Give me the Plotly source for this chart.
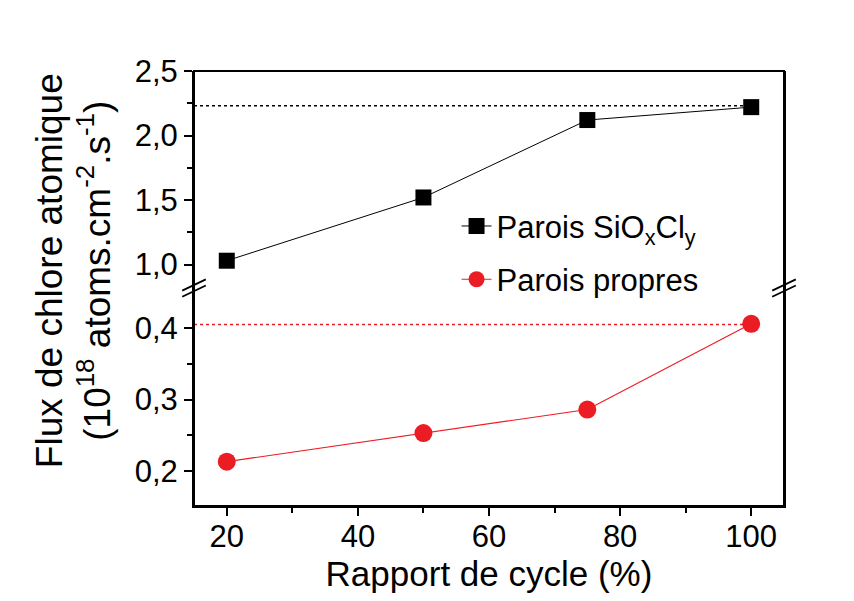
import plotly.graph_objects as go

cycle = [20, 50, 75, 100]
flux_siocl = [1.03, 1.52, 2.12, 2.22]
flux_propres = [0.213, 0.253, 0.286, 0.406]
ref_siocl = 2.23
ref_propres = 0.405

FONT = "Liberation Sans, Arial, sans-serif"
RED = "#ec1c24"

fig = go.Figure()
fig.add_trace(go.Scatter(
    x=cycle, y=flux_siocl, mode="lines+markers", yaxis="y2",
    name="Parois SiO<sub>x</sub>Cl<sub>y</sub>", legendgroup="a",
    line=dict(color="black", width=1),
    marker=dict(symbol="square", size=16, color="black"),
))
fig.add_trace(go.Scatter(
    x=cycle, y=flux_propres, mode="lines+markers", yaxis="y",
    name="Parois propres", legendgroup="b",
    line=dict(color=RED, width=1.2),
    marker=dict(symbol="circle", size=18, color=RED),
))

# dotted reference lines
fig.add_shape(type="line", xref="x", yref="y2", x0=15, x1=100, y0=ref_siocl, y1=ref_siocl,
              line=dict(color="black", width=1.5, dash="dot"))
fig.add_shape(type="line", xref="x", yref="y", x0=15, x1=100, y0=ref_propres, y1=ref_propres,
              line=dict(color=RED, width=1.5, dash="dot"))

# frame
fig.add_shape(type="rect", xref="paper", yref="paper", x0=0, x1=1, y0=0, y1=1,
              line=dict(color="black", width=2), layer="above")

# break marks
split = 0.501
for xp in (0, 1):
    for dy in (-0.007, 0.007):
        fig.add_shape(type="line", xref="paper", yref="paper",
                      x0=xp - 0.02, x1=xp + 0.02, y0=split + dy - 0.013, y1=split + dy + 0.013,
                      line=dict(color="black", width=1.8))

TICKSIZE = 31
axis_common = dict(showline=True, linecolor="black", linewidth=2, ticks="outside",
                   tickcolor="black", tickwidth=1.5, ticklen=8, showgrid=False, zeroline=False,
                   tickfont=dict(family=FONT, size=TICKSIZE, color="black"))
minor_common = dict(ticks="outside", ticklen=5, tickcolor="black", tickwidth=1.5)

fig.update_layout(
    width=846, height=593,
    margin=dict(l=186, r=70, t=63, b=95),
    paper_bgcolor="white", plot_bgcolor="white",
    font=dict(family=FONT, color="black"),
    xaxis=dict(range=[15, 105], tickvals=[20, 40, 60, 80, 100],
               minor=dict(tickvals=[30, 50, 70, 90], **minor_common),
               title=dict(text="Rapport de cycle (%)", font=dict(family=FONT, size=35), standoff=8),
               ticklabelstandoff=-6, mirror=False,
               anchor="y", **axis_common),
    yaxis=dict(domain=[0, split], range=[0.151, 0.456], tickvals=[0.2, 0.3, 0.4],
               ticktext=["0,2", "0,3", "0,4"],
               minor=dict(tickvals=[0.25, 0.35], **minor_common),
               anchor="x", mirror=True, **axis_common),
    yaxis2=dict(domain=[split, 1], range=[0.818, 2.5], tickvals=[1.0, 1.5, 2.0, 2.5],
                ticktext=["1,0", "1,5", "2,0", "2,5"],
                minor=dict(tickvals=[1.25, 1.75, 2.25], **minor_common),
                anchor="x", mirror=True, **axis_common),
    legend=dict(x=0.445, y=0.705, xanchor="left", yanchor="top", bgcolor="rgba(0,0,0,0)",
                font=dict(family=FONT, size=31, color="black"), traceorder="grouped",
                tracegroupgap=10),
    showlegend=True,
)

fig.add_annotation(
    text="Flux de chlore atomique<br>(10<sup>18</sup> atoms.cm<sup>-2</sup>.s<sup>-1</sup>)",
    xref="paper", yref="paper", x=-0.205, y=0.54, textangle=-90, showarrow=False,
    font=dict(family=FONT, size=37, color="black"), xanchor="center", yanchor="middle",
)

fig.write_html("out.html")
